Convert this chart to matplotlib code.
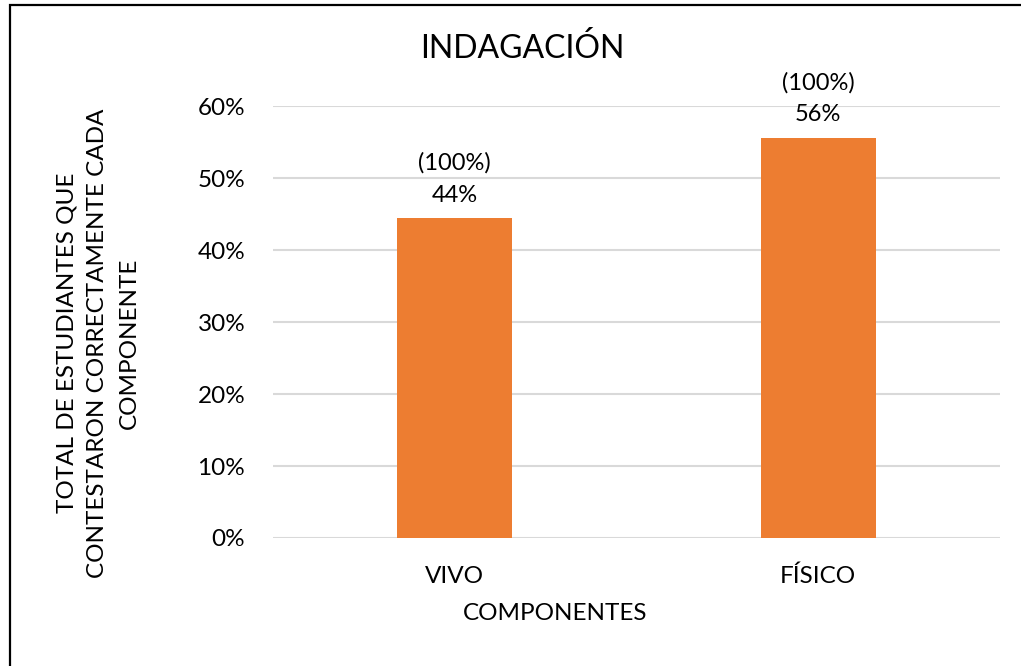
import matplotlib.pyplot as plt
from matplotlib.patches import Rectangle
from matplotlib.ticker import PercentFormatter

# datos
componentes = ["VIVO", "FÍSICO"]
porcentajes = [0.444, 0.556]
etiquetas_total = ["(100%)", "(100%)"]

plt.rcParams['font.family'] = ['Lato', 'DejaVu Sans']

fig = plt.figure(figsize=(10.21, 6.66), dpi=100)
ax = fig.add_axes([0.2674, 0.1922, 0.712, 0.6486])

# marco del gráfico
fig.patches.append(Rectangle((10 / 1021, -0.1), 1.2, 1 - 5 / 666 + 0.1,
                             transform=fig.transFigure, fill=False,
                             edgecolor='black', linewidth=1.6))

x = range(len(componentes))
barras = ax.bar(x, porcentajes, width=0.316, color='#ED7D31', zorder=3)

for b, p, t in zip(barras, porcentajes, etiquetas_total):
    ax.annotate(f"{t}\n{p:.0%}", (b.get_x() + b.get_width() / 2, p),
                xytext=(0, 9), textcoords='offset points',
                ha='center', va='bottom', fontsize=17, linespacing=1.65)

ax.set_xlim(-0.5, 1.5)
ax.set_ylim(0, 0.6)
ax.set_yticks([0, 0.1, 0.2, 0.3, 0.4, 0.5, 0.6])
ax.yaxis.set_major_formatter(PercentFormatter(1.0, decimals=0))
ax.set_xticks(list(x))
ax.set_xticklabels(componentes)
ax.tick_params(axis='both', length=0, labelsize=17.5)
ax.tick_params(axis='x', pad=20)
ax.tick_params(axis='y', pad=20)
ax.grid(axis='y', color='#d9d9d9', linewidth=1.5, zorder=0)
for s in ax.spines.values():
    s.set_visible(False)

fig.text(522 / 1021, 1 - 49 / 666, "INDAGACIÓN", ha='center', va='center', fontsize=23)
fig.text(555 / 1021, 1 - 613 / 666, "COMPONENTES", ha='center', va='center', fontsize=17.5)
fig.text(98 / 1021, 1 - 343 / 666,
         "TOTAL DE ESTUDIANTES QUE\nCONTESTARON CORRECTAMENTE CADA\nCOMPONENTE",
         ha='center', va='center', rotation=90, fontsize=17.5, linespacing=1.6)

fig.savefig("out.png", dpi=100)
